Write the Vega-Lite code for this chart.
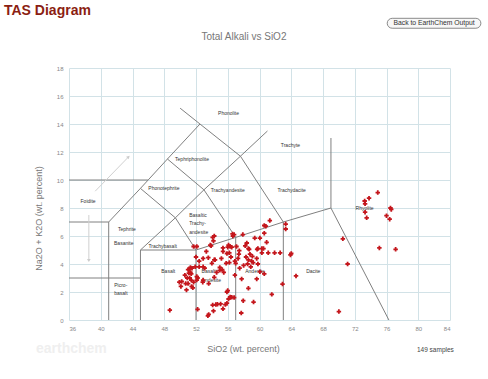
{
  "$schema": "https://vega.github.io/schema/vega-lite/v6.json",
  "width": 381,
  "height": 252,
  "autosize": {"type": "none"},
  "padding": {"left": 69, "top": 68, "right": 38, "bottom": 59},
  "background": "white",
  "config": {"view": {"stroke": null}, "font": "Liberation Sans"},
  "datasets": {
    "pts": [
      {"x":48.7,"y":0.7},{"x":50.1,"y":2.4},{"x":50.7,"y":2.6},{"x":50.2,"y":2.75},{"x":50.8,"y":2.15},{"x":50.6,"y":3.2},{"x":51.0,"y":3.6},{"x":51.2,"y":3.65},{"x":51.3,"y":3.4},{"x":51.4,"y":3.3},{"x":51.2,"y":3.0},{"x":51.4,"y":2.85},{"x":51.45,"y":2.4},{"x":51.6,"y":2.3},{"x":51.3,"y":3.75},{"x":51.5,"y":3.7},{"x":50.9,"y":3.0},{"x":51.0,"y":2.6},{"x":51.7,"y":2.7},{"x":51.9,"y":3.8},{"x":51.1,"y":3.35},{"x":49.9,"y":2.7},
      {"x":52.1,"y":2.85},{"x":52.1,"y":3.1},{"x":52.2,"y":3.0},{"x":52.4,"y":3.8},{"x":52.9,"y":3.8},{"x":52.0,"y":4.5},{"x":52.4,"y":4.2},{"x":51.7,"y":5.25},{"x":52.1,"y":5.25},{"x":53.3,"y":4.9},{"x":54.3,"y":4.3},{"x":54.1,"y":5.9},{"x":54.3,"y":6.0},{"x":54.2,"y":5.65},{"x":53.9,"y":5.3},{"x":53.8,"y":5.35},{"x":55.4,"y":5.15},{"x":56.0,"y":5.2},{"x":56.1,"y":5.35},{"x":56.3,"y":5.25},{"x":55.0,"y":3.75},{"x":55.3,"y":3.6},{"x":55.5,"y":3.4},{"x":54.3,"y":3.05},{"x":53.6,"y":2.6},{"x":55.9,"y":2.0},{"x":52.2,"y":0.76},{"x":53.6,"y":0.4},{"x":53.5,"y":0.3},{"x":54.1,"y":1.07},{"x":54.5,"y":1.1},{"x":54.7,"y":1.12},{"x":55.1,"y":1.15},{"x":55.7,"y":1.1},{"x":55.4,"y":0.8},{"x":54.2,"y":0.65},{"x":52.85,"y":2.7},{"x":52.9,"y":2.85},{"x":53.1,"y":3.7},{"x":54.6,"y":3.4},{"x":55.0,"y":3.55},{"x":56.0,"y":2.1},{"x":56.3,"y":1.65},{"x":56.1,"y":1.5},{"x":56.8,"y":1.6},{"x":55.9,"y":1.2},{"x":52.9,"y":4.4},{"x":53.55,"y":4.45},{"x":54.4,"y":4.3},{"x":55.2,"y":4.4},{"x":55.9,"y":4.75},{"x":55.8,"y":4.05},{"x":56.2,"y":4.1},{"x":55.4,"y":4.9},{"x":56.2,"y":4.8},{"x":56.6,"y":6.15},{"x":56.8,"y":6.1},{"x":56.4,"y":4.5},{"x":56.9,"y":4.2},{"x":56.9,"y":3.2},{"x":56.5,"y":1.62},{"x":54.0,"y":4.05},{"x":56.65,"y":6.0},{"x":56.5,"y":5.2},
      {"x":57.1,"y":5.25},{"x":57.45,"y":4.95},{"x":57.9,"y":6.1},{"x":58.4,"y":5.5},{"x":58.7,"y":5.05},{"x":59.4,"y":5.85},{"x":59.7,"y":5.05},{"x":60.3,"y":4.8},{"x":60.3,"y":5.1},{"x":60.6,"y":6.2},{"x":60.6,"y":6.75},{"x":60.8,"y":6.7},{"x":61.3,"y":7.1},{"x":61.1,"y":4.8},{"x":61.9,"y":4.8},{"x":62.6,"y":4.8},{"x":58.8,"y":4.7},{"x":59.1,"y":4.55},{"x":57.3,"y":4.4},{"x":58.6,"y":4.3},{"x":59.2,"y":4.1},{"x":59.8,"y":4.0},{"x":58.9,"y":3.8},{"x":59.65,"y":4.4},{"x":57.5,"y":3.7},{"x":60.05,"y":3.45},{"x":57.75,"y":2.93},{"x":59.65,"y":2.93},{"x":58.6,"y":2.26},{"x":61.55,"y":1.83},{"x":57.95,"y":1.38},{"x":59.25,"y":1.28},{"x":57.7,"y":0.5},{"x":60.05,"y":5.85},{"x":60.9,"y":5.55},{"x":58.2,"y":5.3},{"x":58.6,"y":5.1},{"x":59.8,"y":5.1},{"x":60.5,"y":5.1},{"x":58.3,"y":4.5},{"x":58.5,"y":4.0},{"x":59.0,"y":4.2},{"x":57.0,"y":4.05},{"x":62.9,"y":2.57},{"x":60.6,"y":3.3},{"x":57.4,"y":4.7},{"x":58.0,"y":3.9},
      {"x":63.3,"y":6.85},{"x":63.3,"y":6.5},{"x":63.9,"y":4.65},{"x":64.0,"y":4.75},{"x":64.6,"y":3.15},
      {"x":70.0,"y":0.6},{"x":70.5,"y":5.8},{"x":71.1,"y":4.0},{"x":74.9,"y":9.1},{"x":73.8,"y":8.7},{"x":73.25,"y":8.5},{"x":73.3,"y":8.3},{"x":73.3,"y":7.7},{"x":73.5,"y":7.3},{"x":76.5,"y":8.0},{"x":76.6,"y":7.9},{"x":76.0,"y":7.45},{"x":76.4,"y":7.2},{"x":75.1,"y":5.15},{"x":77.15,"y":5.05}
    ],
    "bounds": [
      {"seg":"A","o":1,"x":36,"y":7},{"seg":"A","o":2,"x":41,"y":7},{"seg":"A","o":3,"x":41,"y":0},
      {"seg":"B","o":1,"x":41,"y":7},{"seg":"B","o":2,"x":45,"y":9.4},{"seg":"B","o":3,"x":48.4,"y":11.5},{"seg":"B","o":4,"x":52.5,"y":14},
      {"seg":"C","o":1,"x":36,"y":10},{"seg":"C","o":2,"x":45.95,"y":10},
      {"seg":"D","o":1,"x":36,"y":3},{"seg":"D","o":2,"x":45,"y":3},
      {"seg":"E","o":1,"x":45,"y":0},{"seg":"E","o":2,"x":45,"y":5},{"seg":"E","o":3,"x":52,"y":5},
      {"seg":"F","o":1,"x":45,"y":5},{"seg":"F","o":2,"x":49.4,"y":7.3},{"seg":"F","o":3,"x":53,"y":9.3},{"seg":"F","o":4,"x":57.6,"y":11.7},{"seg":"F","o":5,"x":61,"y":13.5},
      {"seg":"G","o":1,"x":45,"y":9.4},{"seg":"G","o":2,"x":49.4,"y":7.3},{"seg":"G","o":3,"x":52,"y":5},{"seg":"G","o":4,"x":52,"y":0},
      {"seg":"H","o":1,"x":48.4,"y":11.5},{"seg":"H","o":2,"x":53,"y":9.3},{"seg":"H","o":3,"x":57,"y":5.9},{"seg":"H","o":4,"x":57,"y":0},
      {"seg":"I","o":1,"x":50,"y":15.13},{"seg":"I","o":2,"x":52.5,"y":14},{"seg":"I","o":3,"x":57.6,"y":11.7},{"seg":"I","o":4,"x":63,"y":7},{"seg":"I","o":5,"x":63,"y":0},
      {"seg":"J","o":1,"x":52,"y":5},{"seg":"J","o":2,"x":57,"y":5.9},{"seg":"J","o":3,"x":63,"y":7},{"seg":"J","o":4,"x":69,"y":8},{"seg":"J","o":5,"x":76.3,"y":0},
      {"seg":"K","o":1,"x":69,"y":8},{"seg":"K","o":2,"x":69,"y":13}
    ],
    "arrows": [
      {"seg":"a1","o":1,"x":39.3,"y":9.2},{"seg":"a1","o":2,"x":43.5,"y":11.65},
      {"seg":"a2","o":1,"x":38.5,"y":7.5},{"seg":"a2","o":2,"x":38.5,"y":4.25}
    ],
    "heads": [
      {"x":43.5,"y":11.65,"shape":"triangle-up","ang":45},
      {"x":38.5,"y":4.25,"shape":"triangle-down","ang":0}
    ],
    "labels": [
      {"t":"Phonolite","x":56.1,"y":14.8,"a":"center"},
      {"t":"Tephriphonolite","x":51.5,"y":11.5,"a":"center"},
      {"t":"Trachyte","x":63.9,"y":12.5,"a":"center"},
      {"t":"Trachyandesite","x":56.0,"y":9.29,"a":"center"},
      {"t":"Trachydacite","x":64.05,"y":9.29,"a":"center"},
      {"t":"Phonotephrite","x":47.96,"y":9.4,"a":"center"},
      {"t":"Foidite","x":38.4,"y":8.52,"a":"center"},
      {"t":"Tephrite","x":43.3,"y":6.5,"a":"center"},
      {"t":"Basanite","x":42.9,"y":5.52,"a":"center"},
      {"t":"Basaltic","x":51.15,"y":7.5,"a":"left"},
      {"t":"Trachy-","x":51.15,"y":6.95,"a":"left"},
      {"t":"andesite","x":51.15,"y":6.31,"a":"left"},
      {"t":"Trachybasalt","x":47.8,"y":5.29,"a":"center"},
      {"t":"Basalt","x":48.5,"y":3.52,"a":"center"},
      {"t":"Picro-","x":41.7,"y":2.48,"a":"left"},
      {"t":"basalt","x":41.7,"y":1.9,"a":"left"},
      {"t":"Basaltic","x":52.7,"y":3.5,"a":"left"},
      {"t":"Andesite","x":52.7,"y":2.86,"a":"left"},
      {"t":"Andesite","x":59.43,"y":3.5,"a":"center"},
      {"t":"Dacite","x":66.77,"y":3.5,"a":"center"},
      {"t":"Rhyolite","x":73.24,"y":8.0,"a":"center"}
    ]
  },
  "encoding": {
    "x": {"field": "x", "type": "quantitative",
      "scale": {"domain": [36, 84], "nice": false, "zero": false},
      "axis": {"values": [36,40,44,48,52,56,60,64,68,72,76,80,84], "grid": true, "gridColor": "#d2e2e7", "domain": false, "ticks": false,
        "labelFontSize": 6, "labelColor": "#888", "labelPadding": 5, "labelFont": "Liberation Sans",
        "title": "SiO2 (wt. percent)", "titleFontSize": 9, "titleFontWeight": "normal", "titleColor": "#777", "titleFont": "Liberation Sans",
        "titleX": 174, "titleY": 28, "titleBaseline": "middle", "titleAlign": "center"}},
    "y": {"field": "y", "type": "quantitative",
      "scale": {"domain": [0, 18], "nice": false, "zero": false},
      "axis": {"values": [0,2,4,6,8,10,12,14,16,18], "grid": true, "gridColor": "#d2e2e7", "domain": false, "ticks": false,
        "labelFontSize": 6, "labelColor": "#888", "labelPadding": 6, "labelFont": "Liberation Sans",
        "title": "Na2O + K2O (wt. percent)", "titleFontSize": 9, "titleFontWeight": "normal", "titleColor": "#777", "titleFont": "Liberation Sans",
        "titleX": -31, "titleY": 150, "titleBaseline": "middle", "titleAlign": "center", "titleAngle": -90}}
  },
  "layer": [
    {
      "data": {"name": "bounds"},
      "mark": {"type": "line", "color": "#808080", "strokeWidth": 1, "clip": false},
      "encoding": {"detail": {"field": "seg"}, "order": {"field": "o", "type": "quantitative"}}
    },
    {
      "data": {"name": "arrows"},
      "mark": {"type": "line", "color": "#d0d0d0", "strokeWidth": 1},
      "encoding": {"detail": {"field": "seg"}, "order": {"field": "o", "type": "quantitative"}}
    },
    {
      "data": {"name": "heads"},
      "mark": {"type": "point", "filled": true, "color": "#cccccc", "size": 14, "opacity": 1},
      "encoding": {"shape": {"field": "shape", "type": "nominal", "scale": null}, "angle": {"field": "ang", "type": "quantitative", "scale": null}}
    },
    {
      "data": {"name": "labels"},
      "transform": [{"filter": "datum.a == 'center'"}],
      "mark": {"type": "text", "fontSize": 5, "color": "#333", "align": "center", "baseline": "middle", "font": "Liberation Sans"},
      "encoding": {"text": {"field": "t"}}
    },
    {
      "data": {"name": "labels"},
      "transform": [{"filter": "datum.a == 'left'"}],
      "mark": {"type": "text", "fontSize": 5, "color": "#333", "align": "left", "baseline": "middle", "font": "Liberation Sans"},
      "encoding": {"text": {"field": "t"}}
    },
    {
      "data": {"name": "pts"},
      "mark": {"type": "point", "shape": "cross", "filled": true, "color": "#c4161c", "size": 20, "opacity": 1},
      "encoding": {}
    },
    {
      "data": {"values": [{"x": 76.09, "x2": 87.89, "y": 21.55, "y2": 20.84}]},
      "mark": {"type": "rect", "fill": "#f7f7f7", "stroke": "#8a8a8a", "strokeWidth": 1, "cornerRadius": 5, "clip": false},
      "encoding": {"x2": {"field": "x2"}, "y2": {"field": "y2"}}
    },
    {
      "data": {"values": [
        {"t": "Back to EarthChem Output", "x": 81.99, "y": 21.19}
      ]},
      "mark": {"type": "text", "fontSize": 6.8, "color": "#333", "align": "center", "baseline": "middle", "font": "Liberation Sans", "clip": false},
      "encoding": {"text": {"field": "t"}}
    },
    {
      "data": {"values": [{"t": "TAS Diagram", "x": 27.81, "y": 21.82}]},
      "mark": {"type": "text", "fontSize": 14, "fontWeight": "bold", "color": "#8b1e12", "align": "left", "baseline": "alphabetic", "font": "Liberation Sans"},
      "encoding": {"text": {"field": "t"}}
    },
    {
      "data": {"values": [{"t": "Total Alkali vs SiO2", "x": 58.04, "y": 20.2}]},
      "mark": {"type": "text", "fontSize": 10, "color": "#777", "align": "center", "baseline": "middle", "font": "Liberation Sans"},
      "encoding": {"text": {"field": "t"}}
    },
    {
      "data": {"values": [{"t": "earthchem", "x": 31.84, "y": -2.07}]},
      "mark": {"type": "text", "fontSize": 14, "fontWeight": "bold", "color": "#efefef", "align": "left", "baseline": "middle", "font": "Liberation Sans"},
      "encoding": {"text": {"field": "t"}}
    },
    {
      "data": {"values": [{"t": "149 samples", "x": 82.16, "y": -2.14}]},
      "mark": {"type": "text", "fontSize": 6.5, "color": "#444", "align": "center", "baseline": "middle", "font": "Liberation Sans"},
      "encoding": {"text": {"field": "t"}}
    }
  ]
}
